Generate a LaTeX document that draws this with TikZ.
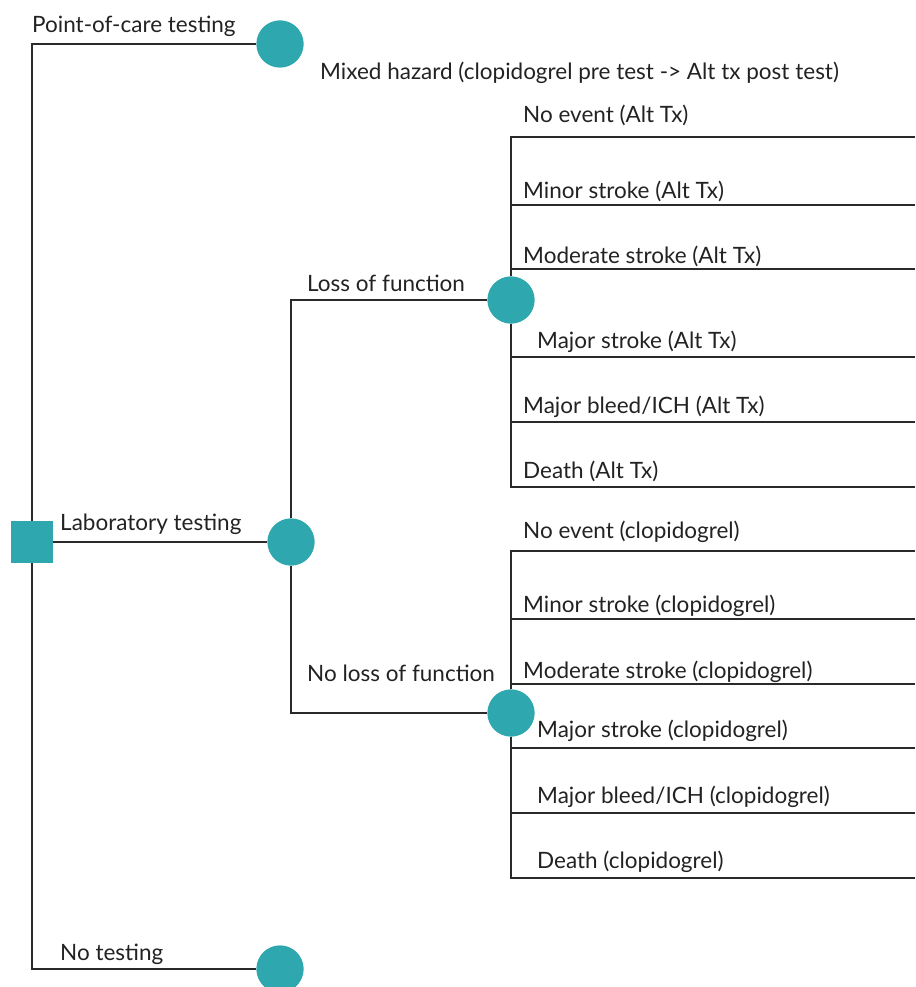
\documentclass[tikz,border=0pt]{standalone}
\usepackage{fontspec}
\setmainfont{Lato}
\definecolor{teal}{HTML}{2EA8AE}
\definecolor{ink}{HTML}{222222}
\definecolor{wire}{HTML}{2A2A2A}
\begin{document}
\begin{tikzpicture}[x=1pt,y=-1pt,
  decision/.style={draw=none,fill=teal,minimum size=42pt,inner sep=0pt,rectangle},
  chance/.style={draw=none,fill=teal,circle,minimum size=47pt,inner sep=0pt},
  lbl/.style={anchor=base west,inner sep=0pt,text=ink,font=\fontsize{22.5}{27}\selectfont},
  branch/.style={draw=wire,line width=2.3pt}]
\useasboundingbox (0,0) rectangle (915,987);

% nodes
\node[decision] (root) at (32,542) {};
\node[chance] (poc) at (280,44) {};
\node[chance] (lab) at (291,542) {};
\node[chance] (nt) at (280,969) {};
\node[chance] (lof) at (511,300) {};
\node[chance] (nlof) at (511,713) {};

% leaf ends
\foreach \n/\y in {a1/137,a2/205,a3/269,a4/357,a5/422,a6/487,
                   c1/551,c2/619,c3/684,c4/748,c5/813,c6/878}
  \coordinate (\n) at (915,\y);

% connectors
\draw[branch] (poc) -| (root);
\draw[branch] (nt) -| (root);
\draw[branch] (root) -- (lab);
\draw[branch] (lof) -| (lab);
\draw[branch] (nlof) -| (lab);
\foreach \n in {a1,a2,a3,a4,a5,a6} \draw[branch] (lof) |- (\n);
\foreach \n in {c1,c2,c3,c4,c5,c6} \draw[branch] (nlof) |- (\n);

% redraw node shapes over the connectors
\node[decision] at (root) {};
\foreach \n in {poc,lab,nt,lof,nlof} \node[chance] at (\n) {};

% labels
\node[lbl] (tpoc) at (32,33) {Point-of-care testing};
\node[lbl] (tmix) at (320,80) {Mixed hazard (clopidogrel pre test -> Alt tx post test)};
\node[lbl] (tlab) at (60,530) {Laboratory testing};
\node[lbl] (tnt) at (60,960) {No testing};
\node[lbl] (tlof) at (307,291) {Loss of function};
\node[lbl] (tnlof) at (307,681) {No loss of function};

\node[lbl] at (523,123) {No event (Alt Tx)};
\node[lbl] at (523,198) {Minor stroke (Alt Tx)};
\node[lbl] at (523,263) {Moderate stroke (Alt Tx)};
\node[lbl] at (537,348) {Major stroke (Alt Tx)};
\node[lbl] at (523,413) {Major bleed/ICH (Alt Tx)};
\node[lbl] at (523,478) {Death (Alt Tx)};

\node[lbl] at (523,538) {No event (clopidogrel)};
\node[lbl] at (523,612) {Minor stroke (clopidogrel)};
\node[lbl] at (523,678) {Moderate stroke (clopidogrel)};
\node[lbl] at (537,737) {Major stroke (clopidogrel)};
\node[lbl] at (537,803) {Major bleed/ICH (clopidogrel)};
\node[lbl] at (537,868) {Death (clopidogrel)};
\end{tikzpicture}
\end{document}
